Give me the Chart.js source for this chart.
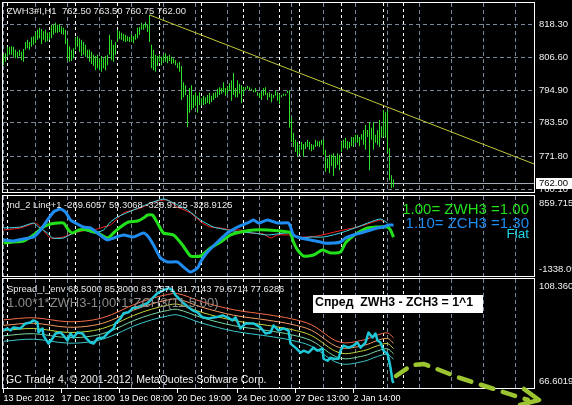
<!DOCTYPE html>
<html>
<head>
<meta charset="utf-8">
<script src="https://cdn.jsdelivr.net/npm/chart.js@4"></script>
<style>
body { margin: 0; background: #000; }
#wrap { position: relative; width: 572px; height: 405px; overflow: hidden; background: #000; }
canvas { position: absolute; left: 0; }
.t { position: absolute; white-space: pre; line-height: 1; font-family: 'Liberation Sans', Arial, sans-serif; }
.box { position: absolute; left: 313px; top: 295px; width: 170px; height: 18px; line-height: 18px; background: #fff; color: #000;
       font: bold 12.3px 'Liberation Sans', Arial, sans-serif; white-space: pre; padding-left: 2px; box-sizing: border-box; overflow: hidden; }
</style>
</head>
<body>
<div id="wrap">
<canvas id="main" width="572" height="194" style="top:0"></canvas>
<canvas id="ind" width="572" height="84" style="top:194px"></canvas>
<canvas id="spr" width="572" height="127" style="top:278px"></canvas>

<div class="t" style="left:7px;top:6px;font-size:9.5px;color:#e4e4e4">ZWH3#I,H1  762.50 763.50 760.75 762.00</div>
<div class="t" style="left:7px;top:199.5px;font-size:9.4px;color:#e8e8e8">Ind_2 Line+1 -269.6057 59.3068 -328.9125 -328.9125</div>
<div class="t" style="right:43px;top:200.7px;font-size:15px;color:#22e01a;text-align:right">1.00= ZWH3 =1.00</div>
<div class="t" style="right:43px;top:215px;font-size:15px;color:#1e8cf0;text-align:right">1.10= ZCH3 =1.30</div>
<div class="t" style="right:43px;top:227px;font-size:13.5px;color:#1ed6e6;text-align:right">Flat</div>
<div class="t" style="left:7px;top:283.7px;font-size:9.4px;color:#e8e8e8">Spread_I_env 68.5000 85.8000 83.7571 81.7143 79.6714 77.6286</div>
<div class="t" style="left:7px;top:295.5px;font-size:13px;color:#8c8c8c">1.00*1*ZWH3-1.00*1*ZCH3(11,5.00)</div>
<div class="box">Спред  ZWH3 - ZCH3 = 1^1</div>
<div class="t" style="left:6px;top:374px;font-size:10.5px;color:#f0f0f0">GC Trader 4, © 2001-2012, MetaQuotes Software Corp.</div>
</div>

<script>
// ZWH3 hourly bars (bar index = hour since chart start)
const barHigh = [
  807.75, 808.0, 810.25, 810.25, 810.5, 810.25, 809.25, 808.5, 809.25, 808.5,
  809.5, 812.0, 812.75, 812.0, 813.75, 814.0, 815.5, 816.25, 817.0, 816.5,
  815.75, 816.25, 815.25, 815.5, 818.0, 818.0, 818.75, 818.0, 818.25, 817.5,
  817.0, 816.25, 812.75, 810.5, 809.25, 809.75, 813.75, 814.0, 813.25, 812.75,
  812.0, 811.0, 809.25, 809.25, 808.5, 807.5, 807.0, 807.5, 806.25, 807.0,
  806.25, 807.0, 807.5, 814.5, 812.75, 811.0, 812.0, 816.25, 815.75, 815.25,
  814.75, 814.5, 814.0, 813.75, 814.5, 814.0, 814.75, 817.0, 817.25, 818.75,
  818.25, 819.0, 818.25, 821.5, 811.0, 809.25, 807.5, 807.0, 807.5, 806.75,
  807.5, 808.0, 807.0, 807.5, 806.75, 806.25, 805.5, 804.5, 805.0, 803.5,
  797.75, 796.75, 793.25, 795.75, 796.75, 793.25, 794.25, 793.0, 794.25, 792.25,
  793.0, 792.5, 793.25, 794.0, 793.0, 794.0, 794.25, 795.5, 796.0, 795.75,
  797.75, 795.75, 796.5, 797.5, 798.5, 801.0, 795.75, 798.5, 797.25, 796.75,
  796.0, 796.0, 796.5, 796.0, 795.5, 795.0, 795.75, 794.25, 794.0, 795.0,
  795.75, 796.0, 794.0, 794.25, 793.75, 793.25, 795.0, 794.25, 793.75, 793.25,
  793.75, 793.75, 794.75, 795.0, 785.25, 780.0, 777.5, 776.75, 775.75, 776.75,
  776.0, 776.75, 777.5, 776.75, 776.0, 775.75, 777.5, 777.0, 777.0, 777.5,
  777.5, 774.0, 771.0, 772.25, 772.25, 772.75, 771.75, 772.75, 772.25, 777.0,
  777.5, 778.25, 777.0, 776.75, 778.5, 778.5, 779.25, 779.25, 778.5, 779.5,
  781.0, 782.75, 781.0, 783.75, 781.75, 783.75, 779.25, 781.0, 784.5, 782.25,
  788.0, 787.25, 788.0, 774.5, 765.0, 763.5
];
const barLow = [
  803.75, 805.0, 806.75, 807.5, 807.5, 806.75, 806.25, 806.25, 807.0, 805.5,
  805.0, 809.25, 809.75, 809.25, 810.25, 811.0, 811.5, 812.75, 813.25, 811.25,
  812.75, 812.0, 812.25, 812.75, 813.25, 814.5, 815.25, 815.25, 815.5, 814.75,
  814.5, 811.25, 805.5, 805.0, 805.25, 806.25, 809.25, 810.25, 808.5, 807.0,
  807.5, 806.75, 806.25, 805.0, 804.25, 803.5, 802.0, 802.75, 802.0, 801.5,
  802.75, 802.0, 803.75, 807.5, 805.5, 805.0, 807.5, 812.0, 813.0, 812.75,
  812.25, 812.0, 812.25, 812.0, 812.0, 811.5, 812.75, 813.25, 814.5, 816.25,
  816.25, 817.0, 815.5, 812.0, 802.75, 802.0, 801.5, 803.5, 805.0, 803.75,
  805.0, 805.0, 804.5, 805.25, 804.25, 804.5, 803.75, 802.75, 801.5, 791.5,
  792.5, 793.25, 782.0, 787.0, 788.0, 788.75, 789.5, 787.0, 789.75, 789.5,
  789.75, 790.0, 790.5, 790.0, 790.75, 791.5, 792.25, 792.5, 793.25, 793.75,
  794.25, 793.0, 793.75, 795.0, 791.25, 793.25, 792.5, 792.5, 793.75, 790.5,
  793.25, 795.0, 795.5, 795.0, 794.75, 794.25, 794.25, 793.0, 792.25, 791.5,
  793.0, 793.25, 791.5, 792.5, 790.75, 792.25, 793.0, 791.25, 790.0, 792.5,
  793.0, 793.0, 794.0, 781.75, 776.75, 775.0, 773.25, 771.75, 772.5, 774.0,
  771.5, 774.25, 775.0, 774.0, 773.5, 774.0, 775.0, 775.25, 775.0, 775.75,
  772.25, 766.25, 767.5, 765.75, 768.25, 764.75, 767.5, 768.75, 766.75, 773.25,
  774.5, 774.5, 774.0, 774.5, 775.25, 775.0, 776.5, 776.5, 775.25, 777.5,
  775.75, 774.0, 778.5, 766.75, 777.5, 774.0, 776.5, 775.75, 775.0, 778.25,
  778.5, 778.25, 772.75, 763.25, 760.5, 760.75
];
const lastClose = 762.00;

// trend line from the 19 Dec high
const trendBars = [73, 265.25];
const trendPrices = [821.5, 769.0];

const priceTicks = [760.10, 771.80, 783.50, 794.90, 806.60, 818.30];

// day separators and time axis
const sepBars = [2, 23, 36, 57, 78, 99, 120, 138, 148, 169, 190, 200];
const timeBars = [0, 29, 58, 87, 117, 146, 175];
const timeLabels = ['13 Dec 2012', '17 Dec 18:00', '19 Dec 08:00', '20 Dec 19:00', '24 Dec 10:00', '27 Dec 13:00', '2 Jan 14:00'];

// Ind_2 window
const indTicks = [-1338.09, 0, 859.715];
const indLabels = [['-1338.09', ''], '0.00', ['', '859.715']];
const blueBar = [0, 5, 10, 15, 18.5, 22, 25, 28.5, 31, 33.5, 36, 40, 43.5, 47, 49.5, 52, 55, 60, 65, 70, 72.5, 75, 78.5, 82, 87, 90, 93.5, 97, 98.5, 102, 107, 112, 117, 122, 125, 127.5, 132, 137, 142.5, 143.5, 145, 148.5, 153.5, 158.5, 160, 165, 168.5, 171, 175, 178.5, 183.5, 187, 190, 192.5, 195];
const blueVal = [-348.9, -376.4, -321.5, -266.5, -74.3, 200.4, 420.2, 502.6, 420.2, 200.4, 118.0, 8.2, -19.3, -156.7, -266.5, -348.9, -294.0, -211.6, -266.5, -156.7, -266.5, -486.3, -843.4, -953.3, -953.3, -1090.7, -1228.0, -1118.1, -953.3, -678.6, -403.9, -156.7, 8.2, 118.0, 200.4, 118.0, 200.4, 118.0, 118.0, 8.2, -211.6, -294.0, -348.9, -403.9, -431.3, -431.3, -403.9, -294.0, -211.6, -156.7, -74.3, -19.3, 8.2, 63.1, 59.3];
const greenBar = [0, 5, 10, 15, 20, 23.5, 27, 30, 32.5, 34.5, 37.5, 42, 47, 52, 55, 58.5, 62.5, 67, 70, 72, 74.5, 77, 80, 85, 89.5, 93.5, 98.5, 103.5, 108.5, 113.5, 118.5, 125, 132, 142.5, 143.5, 145, 147, 150, 155, 159.5, 163.5, 168.5, 171, 173.5, 177, 182, 187, 192, 193.5, 195];
const greenVal = [-431.3, -403.9, -376.4, -211.6, 8.2, 90.6, 118.0, 118.0, -74.3, -156.7, -74.3, -74.3, -156.7, -294.0, -156.7, 8.2, 145.5, 173.0, 255.4, 337.8, 337.8, 118.0, -156.7, -211.6, -486.3, -788.5, -788.5, -568.7, -403.9, -211.6, -129.2, -74.3, -74.3, -129.2, -156.7, -403.9, -623.6, -788.5, -761.0, -623.6, -706.1, -678.6, -431.3, -294.0, -156.7, -19.3, 8.2, 8.2, -74.3, -269.6];
const redBar = [0, 8.5, 16, 18.5, 23.5, 30, 35, 42, 47, 50, 53.5, 60, 68.5, 75, 82, 87, 93.5, 99.5, 103.5, 108.5, 113.5, 118.5, 123.5, 130, 133.5, 137, 142.5, 147, 152, 157, 163.5, 170, 177, 183.5, 188.5, 190];
const redVal = [-74.3, -19.3, 118.0, 8.2, -294.0, -266.5, -156.7, -74.3, -46.8, 8.2, 63.1, 392.7, 530.1, 694.9, 749.8, 557.5, 392.7, 118.0, 8.2, -19.3, -74.3, -74.3, -156.7, -184.1, -294.0, -211.6, -211.6, -266.5, -266.5, -239.1, -156.7, -74.3, 8.2, 118.0, 200.4, 145.5];
const cyanBar = [0, 8.5, 15, 17.5, 22, 24.5, 30, 35, 40, 45, 50, 53.5, 57, 65, 73.5, 80, 85, 92, 98.5, 105, 112, 118.5, 125, 132, 142.5, 148.5, 153.5, 160, 168.5, 177, 183.5, 188.5, 192];
const cyanVal = [-19.3, 8.2, 118.0, 8.2, -156.7, -294.0, -294.0, -156.7, -74.3, -156.7, -74.3, 145.5, 282.8, 475.1, 667.4, 777.3, 667.4, 475.1, 200.4, 8.2, -74.3, -129.2, -156.7, -211.6, -156.7, -294.0, -266.5, -266.5, -156.7, 8.2, 145.5, 227.9, 118.0];

// Spread_I_env window
const sprTicks = [66.6019, 108.36];
const sprLabels = [['66.6019', ''], ['', '108.360']];
const spreadBar = [0, 2, 3.5, 5, 8.5, 11, 13.5, 15, 17, 17.5, 19.5, 20, 22.5, 24.5, 26, 28.5, 30, 32, 33.5, 35,
  37, 39.5, 41, 43.5, 45, 47, 50, 52.5, 55, 56, 58.5, 60, 62.5, 64.5, 67, 69.5, 72, 74.5, 77, 80,
  82.5, 84.5, 86, 89.5, 92.5, 94.5, 97, 99.5, 102.5, 106, 109.5, 112, 114.5, 116, 118.5, 121, 125, 128.5, 131, 133.5,
  135, 137.5, 140, 142.5, 143.5, 146, 148.5, 150, 152.5, 155, 157, 159.5, 160, 162, 163.5, 165, 167.5, 168.5, 170, 172.5,
  175, 177, 178.5, 181, 182.5, 184.5, 186, 187, 188.5, 190, 192, 192.5, 193.5, 194.5, 195];
const spreadVal = [88.64, 89.41, 88.64, 89.80, 89.41, 91.35, 91.73, 92.50, 91.73, 87.87, 89.41, 86.70, 83.61, 85.54, 87.48, 87.87, 86.70, 84.77, 87.48, 85.93,
  87.87, 87.48, 85.93, 84.00, 83.61, 85.54, 85.93, 87.87, 89.41, 91.35, 93.28, 95.21, 95.60, 97.15, 97.53, 98.31, 99.08, 101.01, 102.95, 104.11,
  104.88, 104.11, 102.17, 99.47, 97.53, 96.37, 95.60, 93.67, 93.28, 93.67, 94.44, 93.67, 92.50, 93.67, 89.41, 91.35, 91.35, 89.80, 87.48, 87.87,
  90.57, 88.64, 89.41, 88.64, 83.61, 82.06, 80.13, 80.90, 80.13, 82.06, 80.90, 81.68, 77.81, 77.04, 78.20, 77.81, 77.81, 80.90, 82.84, 82.06,
  82.84, 84.00, 82.06, 84.00, 87.87, 85.93, 87.48, 84.77, 84.00, 80.90, 79.74, 78.20, 74.33, 69.30, 68.50];
const envBar = [0, 15, 32, 45, 54, 65, 74, 82, 87, 99, 115, 132, 144, 154, 168, 180, 187, 192, 195];
const envUp2 = [92.7, 93.5, 92.0, 92.7, 94.7, 98.5, 100.9, 102.4, 102.8, 99.7, 96.6, 94.7, 93.1, 90.8, 84.2, 85.0, 86.9, 87.7, 85.80];
const envUp1 = [90.6, 91.4, 89.9, 90.6, 92.6, 96.4, 98.8, 100.3, 100.7, 97.6, 94.5, 92.6, 91.0, 88.7, 82.1, 82.9, 84.8, 85.6, 83.76];
const envMid = [88.6, 89.4, 87.9, 88.6, 90.6, 94.4, 96.8, 98.3, 98.7, 95.6, 92.5, 90.6, 89.0, 86.7, 80.1, 80.9, 82.8, 83.6, 81.71];
const envDn1 = [86.6, 87.4, 85.9, 86.6, 88.6, 92.4, 94.8, 96.3, 96.7, 93.6, 90.5, 88.6, 87.0, 84.7, 78.1, 78.9, 80.8, 81.6, 79.67];
const envDn2 = [84.5, 85.3, 83.8, 84.5, 86.5, 90.3, 92.7, 94.2, 94.6, 91.5, 88.4, 86.5, 84.9, 82.6, 76.0, 76.8, 78.7, 79.5, 77.63];

const GRID = '#778899';
const FONT = "'Liberation Sans', Arial, sans-serif";

const pts = (xs, ys) => xs.map((x, i) => ({x: x, y: ys[i]}));

// grey grid every 16 bars, white dashed day separators, white frame
const paneGrid = {
  id: 'paneGrid',
  beforeDatasetsDraw(chart) {
    const {ctx, chartArea: a, scales: {x}} = chart;
    ctx.save();
    ctx.lineWidth = 1;
    ctx.strokeStyle = GRID;
    ctx.setLineDash([4, 3]);
    ctx.beginPath();
    for (let b = 0; b <= x.max; b += 16) {
      const px = Math.floor(x.getPixelForValue(b)) + 0.5;
      ctx.moveTo(px, a.top);
      ctx.lineTo(px, a.bottom);
    }
    ctx.stroke();
    ctx.strokeStyle = '#ffffff';
    ctx.setLineDash([3, 3]);
    ctx.beginPath();
    sepBars.forEach(b => {
      const px = Math.floor(x.getPixelForValue(b)) + 0.5;
      ctx.moveTo(px, a.top);
      ctx.lineTo(px, a.bottom);
    });
    ctx.stroke();
    ctx.restore();
  },
  afterDraw(chart) {
    const {ctx, chartArea: a} = chart;
    ctx.save();
    ctx.strokeStyle = '#ffffff';
    ctx.lineWidth = 1;
    ctx.strokeRect(a.left - 0.5, a.top - 0.5, a.right - a.left + 1, a.bottom - a.top + 1);
    ctx.restore();
  }
};

// bid line and its price box
const lastPrice = {
  id: 'lastPrice',
  beforeDatasetsDraw(chart) {
    const {ctx, chartArea: a, scales: {y}} = chart;
    const py = Math.floor(y.getPixelForValue(lastClose)) + 0.5;
    ctx.save();
    ctx.strokeStyle = '#a4adb6';
    ctx.lineWidth = 1;
    ctx.beginPath();
    ctx.moveTo(a.left, py);
    ctx.lineTo(a.right, py);
    ctx.stroke();
    ctx.restore();
  },
  afterDraw(chart) {
    const {ctx, chartArea: a, scales: {y}} = chart;
    const py = Math.floor(y.getPixelForValue(lastClose));
    ctx.save();
    ctx.fillStyle = '#ffffff';
    ctx.fillRect(a.right + 2, py - 5, 36, 11);
    ctx.fillStyle = '#000000';
    ctx.font = '9.5px ' + FONT;
    ctx.textBaseline = 'middle';
    ctx.fillText(lastClose.toFixed(2), a.right + 5, py + 0.5);
    ctx.restore();
  }
};

// hand drawn arrow over the spread window
const arrowPath = [[396, 98], [412, 87], [424, 86], [460, 100], [528, 122]];
const arrow = {
  id: 'arrow',
  afterDraw(chart) {
    const ctx = chart.ctx;
    ctx.save();
    ctx.strokeStyle = '#9cc431';
    ctx.lineWidth = 4.5;
    ctx.lineCap = 'round';
    ctx.lineJoin = 'round';
    ctx.setLineDash([13, 10]);
    ctx.beginPath();
    arrowPath.forEach(([px, py], i) => i ? ctx.lineTo(px, py) : ctx.moveTo(px, py));
    ctx.stroke();
    ctx.setLineDash([]);
    ctx.beginPath();
    ctx.moveTo(524, 111);
    ctx.lineTo(539, 122);
    ctx.lineTo(520, 127);
    ctx.stroke();
    ctx.restore();
  }
};

function xScale(show) {
  return {
    type: 'linear', min: -0.25, max: 265.25, offset: false, display: show,
    grid: {display: show, drawOnChartArea: false, color: '#ffffff', tickLength: 5},
    border: {display: false},
    afterBuildTicks: s => { s.ticks = timeBars.map(v => ({value: v})); },
    afterFit: s => { if (show) s.height = 17; s.paddingLeft = 0; s.paddingRight = 0; },
    ticks: {display: show, autoSkip: false, maxRotation: 0, minRotation: 0, align: 'start', padding: 0,
      color: '#ffffff', font: {family: FONT, size: 9}, callback: (v, i) => timeLabels[i]}
  };
}

function yScale(min, max, ticks, labels, gridColor) {
  return {
    position: 'right', min: min, max: max,
    afterBuildTicks: s => { s.ticks = ticks.map(v => ({value: v})); },
    afterFit: s => { s.width = 38; s.paddingTop = 0; s.paddingBottom = 0; },
    grid: {display: !!gridColor, color: gridColor || 'transparent', drawTicks: false},
    border: {display: false, dash: [4, 3]},
    ticks: {color: '#f0f0f0', padding: 5, font: {family: FONT, size: 9.5, lineHeight: 1.5},
      callback: (v, i) => labels[i]}
  };
}

function baseOptions(padding, scales) {
  return {
    responsive: false, animation: false, devicePixelRatio: 1, events: [],
    layout: {padding: padding},
    plugins: {legend: {display: false}, tooltip: {enabled: false}},
    scales: scales
  };
}

new Chart(document.getElementById('main'), {
  type: 'bar',
  data: {
    datasets: [
      {
        type: 'line', data: pts(trendBars, trendPrices),
        borderColor: '#c2c83a', borderWidth: 1, pointRadius: 0
      },
      {
        data: barHigh.map((h, i) => ({x: i, y: [barLow[i], h]})),
        backgroundColor: '#2fe02a', borderWidth: 0, barThickness: 1, inflateAmount: 0, grouped: false
      }
    ]
  },
  options: baseOptions({left: 3, top: 3, right: 0, bottom: 2}, {
    x: xScale(false),
    y: yScale(759.12, 825.70, priceTicks, priceTicks.map(v => v.toFixed(2)), GRID)
  }),
  plugins: [paneGrid, lastPrice]
});

new Chart(document.getElementById('ind'), {
  type: 'line',
  data: {
    datasets: [
      {data: pts(blueBar, blueVal), borderColor: '#1e8cf0', borderWidth: 3},
      {data: pts(greenBar, greenVal), borderColor: '#22e01a', borderWidth: 3},
      {data: pts(cyanBar, cyanVal), borderColor: '#3fdcec', borderWidth: 1},
      {data: pts(redBar, redVal), borderColor: '#ff2020', borderWidth: 1}
    ].map(d => Object.assign(d, {pointRadius: 0, tension: 0.2, borderJoinStyle: 'round'}))
  },
  options: baseOptions({left: 3, top: 2, right: 0, bottom: 2}, {
    x: xScale(false),
    y: yScale(-1338.09, 859.715, indTicks, indLabels, c => (c.tick && c.tick.value === 0 ? GRID : 'rgba(0,0,0,0)'))
  }),
  plugins: [paneGrid]
});

new Chart(document.getElementById('spr'), {
  type: 'line',
  data: {
    datasets: [
      {data: pts(spreadBar, spreadVal), borderColor: '#1ec8d8', borderWidth: 2.5, tension: 0},
      {data: pts(envBar, envUp2), borderColor: '#f86c48', borderWidth: 1, tension: 0.35},
      {data: pts(envBar, envUp1), borderColor: '#f49a62', borderWidth: 1, tension: 0.35},
      {data: pts(envBar, envMid), borderColor: '#c4d43c', borderWidth: 1, tension: 0.35},
      {data: pts(envBar, envDn1), borderColor: '#78d8a4', borderWidth: 1, tension: 0.35},
      {data: pts(envBar, envDn2), borderColor: '#3cc8cc', borderWidth: 1, tension: 0.35}
    ].map(d => Object.assign(d, {pointRadius: 0, borderJoinStyle: 'round'}))
  },
  options: baseOptions({left: 3, top: 1, right: 0, bottom: 0}, {
    x: xScale(true),
    y: yScale(66.6019, 108.36, sprTicks, sprLabels, null)
  }),
  plugins: [paneGrid, arrow]
});
</script>
</body>
</html>
